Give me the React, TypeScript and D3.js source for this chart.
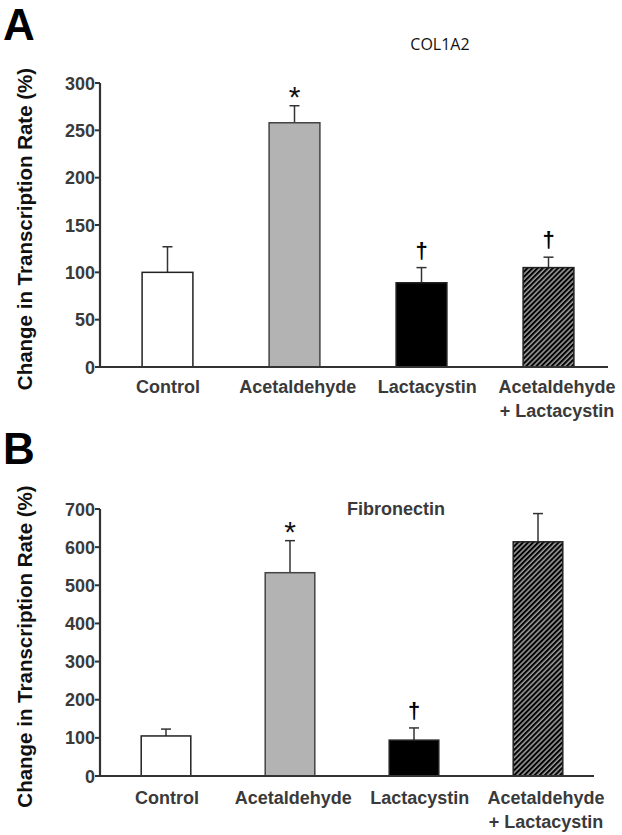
import * as d3 from 'd3'

// shared categories
const categories = ['Control', 'Acetaldehyde', 'Lactacystin', 'Acetaldehyde\n+ Lactacystin']

// panel A - COL1A2
const colValues = [100, 258, 89, 105]
const colErrors = [27, 18, 16, 11]
const colMarks = ['', '*', '†', '†']
const colTicks = [0, 50, 100, 150, 200, 250, 300]

// panel B - Fibronectin
const fibValues = [105, 533, 94, 614]
const fibErrors = [18, 84, 32, 74]
const fibMarks = ['', '*', '†', '']
const fibTicks = [0, 100, 200, 300, 400, 500, 600, 700]

const fills = ['#ffffff', '#b3b3b3', '#000000', 'url(#hatch)']
const FONT = '"Liberation Sans", Arial, sans-serif'
const INK = '#3a3a3a'

interface PanelProps {
  letter: string
  letterY: number
  title: string
  titleX: number
  titleY: number
  titleFont: string
  values: number[]
  errors: number[]
  marks: string[]
  ticks: number[]
  yTop: number
  yBottom: number
  axisEnd: number
  bandRange: [number, number]
  labelRange: [number, number]
  labelY: number
}

function Panel(p: PanelProps) {
  const y = d3.scaleLinear().domain([0, p.ticks[p.ticks.length - 1]]).range([p.yBottom, p.yTop])
  const x = d3.scaleBand<string>().domain(categories).range(p.bandRange).paddingInner(0.6).paddingOuter(0.3)
  const lx = d3.scalePoint<string>().domain(categories).range(p.labelRange)
  const bw = x.bandwidth()
  const axisX = 100
  const open = p.titleFont.includes('Open')

  return (
    <g>
      <text x={3} y={p.letterY} fontFamily={FONT} fontWeight="bold" fontSize={44} fill="#000">{p.letter}</text>
      <text x={p.titleX} y={p.titleY} textAnchor="middle" fontFamily={p.titleFont}
        fontSize={open ? 16 : 18} fontWeight={open ? 'normal' : 'bold'}
        fill={open ? '#111' : INK}>{p.title}</text>

      {/* y label */}
      <text transform={`translate(32,${(p.yTop + p.yBottom) / 2 + 4}) rotate(-90)`} textAnchor="middle"
        fontFamily={FONT} fontWeight="bold" fontSize={20.5} fill="#111">Change in Transcription Rate (%)</text>

      {/* bars */}
      {categories.map((c, i) => {
        const x0 = x(c)!
        const top = y(p.values[i])
        const errTop = y(p.values[i] + p.errors[i])
        const cx = x0 + bw / 2
        return (
          <g key={c}>
            <line x1={cx} x2={cx} y1={top} y2={errTop} stroke="#333" strokeWidth={1.5} />
            <line x1={cx - 5} x2={cx + 5} y1={errTop} y2={errTop} stroke="#333" strokeWidth={1.5} />
            <rect x={x0} y={top} width={bw} height={y(0) - top} fill={fills[i]}
              stroke={i === 1 ? '#444' : '#222'} strokeWidth={1.5} />
            {p.marks[i] === '*' && (
              <text x={cx} y={errTop + 1} textAnchor="middle" fontFamily={FONT} fontSize={30} fill="#111">*</text>
            )}
            {p.marks[i] === '†' && (
              <text x={cx} y={errTop - 10} textAnchor="middle" fontFamily={FONT} fontWeight="bold" fontSize={22} fill="#000">†</text>
            )}
          </g>
        )
      })}

      {/* axes */}
      <line x1={axisX} x2={axisX} y1={p.yTop} y2={p.yBottom + 1} stroke="#333" strokeWidth={2.2} />
      <line x1={axisX - 1} x2={p.axisEnd} y1={p.yBottom} y2={p.yBottom} stroke="#333" strokeWidth={2.2} />
      {p.ticks.map(t => (
        <g key={t}>
          <line x1={axisX - 5} x2={axisX} y1={y(t)} y2={y(t)} stroke="#333" strokeWidth={2} />
          <text x={axisX - 5} y={y(t) + 6.5} textAnchor="end" fontFamily={FONT} fontWeight="bold" fontSize={18} fill={INK}>{t}</text>
        </g>
      ))}

      {/* category labels */}
      {categories.map(c => (
        <text key={c} x={lx(c)!} y={p.labelY} textAnchor="middle" fontFamily={FONT} fontWeight="bold" fontSize={18} fill={INK}>
          {c.split('\n').map((line, j) => (
            <tspan key={j} x={lx(c)!} dy={j === 0 ? 0 : 23.5}>{line}</tspan>
          ))}
        </text>
      ))}
    </g>
  )
}

export default function App() {
  return (
    <svg width={622} height={835} style={{ position: 'absolute', left: 0, top: 0, background: '#fff' }}>
      <defs>
        <pattern id="hatch" patternUnits="userSpaceOnUse" width={3.6} height={3.6} patternTransform="rotate(45)">
          <rect width={3.6} height={3.6} fill="#999" />
          <rect width={2} height={3.6} fill="#000" />
        </pattern>
      </defs>
      <rect width={622} height={835} fill="#fff" />
      <Panel letter="A" letterY={40} title="COL1A2" titleX={440} titleY={50} titleFont='"Open Sans", sans-serif'
        values={colValues} errors={colErrors} marks={colMarks} ticks={colTicks}
        yTop={83} yBottom={367} axisEnd={608} bandRange={[104, 612]} labelRange={[168, 557]} labelY={393} />
      <Panel letter="B" letterY={464} title="Fibronectin" titleX={396} titleY={515} titleFont={FONT}
        values={fibValues} errors={fibErrors} marks={fibMarks} ticks={fibTicks}
        yTop={509} yBottom={776} axisEnd={594} bandRange={[104, 600]} labelRange={[167, 546]} labelY={804} />
    </svg>
  )
}
